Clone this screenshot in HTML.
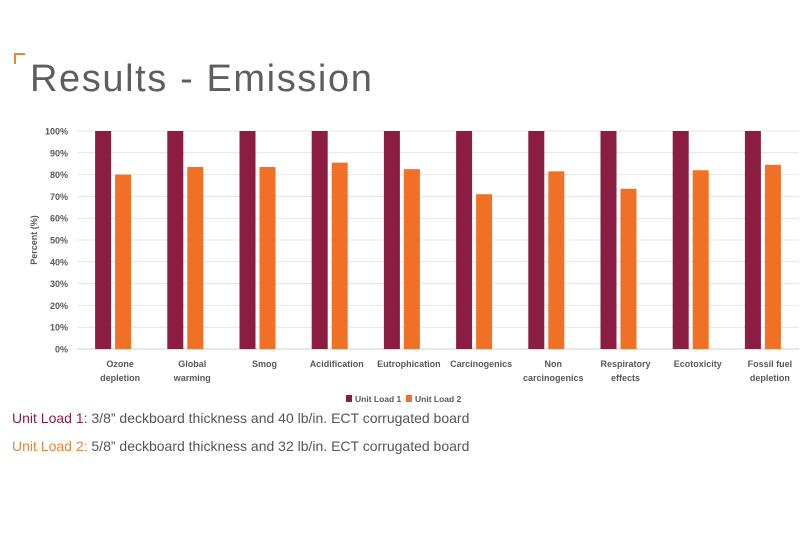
<!DOCTYPE html>
<html><head><meta charset="utf-8"><style>
body{margin:0;width:800px;height:533px;background:#fff;overflow:hidden;font-family:"Liberation Sans",sans-serif;position:relative}
.t{position:absolute}
</style></head><body>
<div class="t" style="left:14px;top:53px;width:9px;height:9px;border-left:2px solid #e8833a;border-top:2px solid #e8833a"></div>
<div class="t" style="left:30px;top:58px;font-size:38px;color:#5e5e5e;letter-spacing:1.6px">Results - Emission</div>
<svg class="t" style="left:0;top:0" width="800" height="533" id="chart"></svg>
<div class="t" style="left:12px;top:410px;font-size:14px;color:#555"><span style="color:#8b1c42">Unit Load 1:</span> 3/8” deckboard thickness and 40 lb/in. ECT corrugated board</div>
<div class="t" style="left:12px;top:438px;font-size:14px;color:#555"><span style="color:#e8833a">Unit Load 2:</span> 5/8” deckboard thickness and 32 lb/in. ECT corrugated board</div>
<script>
const categories=[["Ozone","depletion"],["Global","warming"],["Smog"],["Acidification"],["Eutrophication"],["Carcinogenics"],["Non","carcinogenics"],["Respiratory","effects"],["Ecotoxicity"],["Fossil fuel","depletion"]];
const load1=[100,100,100,100,100,100,100,100,100,100];
const load2=[80,83.5,83.5,85.5,82.5,71,81.5,73.5,82,84.5];
const ticks=[0,10,20,30,40,50,60,70,80,90,100];
const svg=document.getElementById('chart');const NS='http://www.w3.org/2000/svg';
const L=77,W=722,top0=131,bot=349;
const y=v=>bot-(bot-top0)*v/100;const xc=i=>L+W/categories.length*(i+0.5);
function mk(t,a,txt){const e=document.createElementNS(NS,t);for(const k in a)e.setAttribute(k,a[k]);if(txt!=null)e.textContent=txt;svg.appendChild(e);return e;}
ticks.forEach(t=>{
 const g=mk('line',{x1:L,x2:L+W,y1:y(t),y2:y(t),stroke:t?'#e4e4e4':'#cfcfcf','stroke-width':1});
 
 
 const l=mk('text',{x:68,y:y(t)+3.5,'text-anchor':'end','font-size':9,'font-weight':'bold',fill:'#595959'},t+'%');
 
 
});
const yt=mk('text',{x:0,y:0,transform:'translate(37,240) rotate(-90)','text-anchor':'middle','font-size':9,'font-weight':'bold',fill:'#595959'},'Percent (%)');


categories.forEach((c,i)=>{
 const cx=xc(i);
 const b1=mk('rect',{x:cx-18,y:y(load1[i]),width:16,height:bot-y(load1[i]),fill:'#8b1c42'});
 
 
 const b2=mk('rect',{x:cx+2,y:y(load2[i]),width:16,height:bot-y(load2[i]),fill:'#f07125'});
 
 
 c.forEach((s,j)=>{const t=mk('text',{x:cx+7,y:367+j*14,'text-anchor':'middle','font-size':9,'font-weight':'bold',fill:'#595959'},s);
 
 });
});
const leg=[['Unit Load 1','#8b1c42',346],['Unit Load 2','#f07125',406]];
leg.forEach(d=>{
 const r=mk('rect',{x:d[2],y:395,width:6,height:7,fill:d[1]});
 
 
 const t=mk('text',{x:d[2]+9,y:402,'font-size':8.5,'font-weight':'bold',fill:'#595959'},d[0]);
 
 
});
</script>
</body></html>
